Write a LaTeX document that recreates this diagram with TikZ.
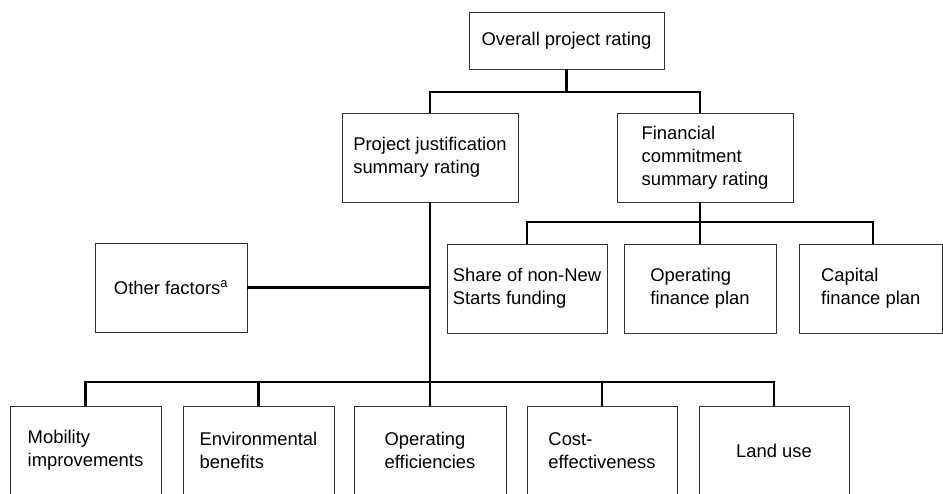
\documentclass[tikz,border=0pt]{standalone}
\usepackage{fontspec}
\setmainfont{Liberation Sans}
\begin{document}
\begin{tikzpicture}[x=1pt,y=-1pt,
  box/.style={draw=black!80, line width=0.9pt, inner sep=0pt, align=left,
    font=\fontsize{18.4}{23}\selectfont, minimum height=89pt},
  conn/.style={line width=2.5pt, black, line join=miter}]
\useasboundingbox (0,0) rectangle (943,493);
% top
\node[box, minimum width=195pt, minimum height=57pt] (ov) at (566.5,40.5) {Overall project rating};
\node[box, minimum width=176pt] (pj) at (430,157.5) {Project justification\\summary rating};
\node[box, minimum width=176pt] (fc) at (705,157.5) {Financial\\commitment\\summary rating};
% middle row
\node[box, minimum width=152pt] (of) at (171,287.5) {Other factors\textsuperscript{a}};
\node[box, minimum width=160pt] (sh) at (527,288.5) {Share of non-New\\Starts funding};
\node[box, minimum width=152pt] (op) at (700,288.5) {Operating\\finance plan};
\node[box, minimum width=143.5pt] (cp) at (870.75,288.5) {Capital\\finance plan};
% bottom row
\node[box, minimum width=151pt] (mo) at (85.5,450.5) {Mobility\\improvements};
\node[box, minimum width=151pt] (en) at (258.5,450.5) {Environmental\\benefits};
\node[box, minimum width=152pt] (oe) at (430,450.5) {Operating\\efficiencies};
\node[box, minimum width=150pt] (ce) at (602,450.5) {Cost-\\effectiveness};
\node[box, minimum width=150pt] (lu) at (774,450.5) {Land use};
% junctions
\coordinate (t1) at (566.5,92);
\coordinate (fcin) at (700,113);
\coordinate (fcout) at (700,202);
\coordinate (t2) at (700,222);
\coordinate (cpin) at (873,244);
\coordinate (b) at (430,382);
% connectors
\draw[conn] (ov.south) -- (t1);
\draw[conn] (pj.north) |- (t1) -| (fcin);
\draw[conn] (fcout) -- (op.north);
\draw[conn] (sh.north) |- (t2) -| (cpin);
\draw[conn] (pj.south) -- (oe.north);
\draw[conn] (of.east) -- (of.east -| pj.south);
\draw[conn] (mo.north) |- (b) -| (lu.north);
\draw[conn] (en.north) -- (en.north |- b);
\draw[conn] (ce.north) -- (ce.north |- b);
\end{tikzpicture}
\end{document}
